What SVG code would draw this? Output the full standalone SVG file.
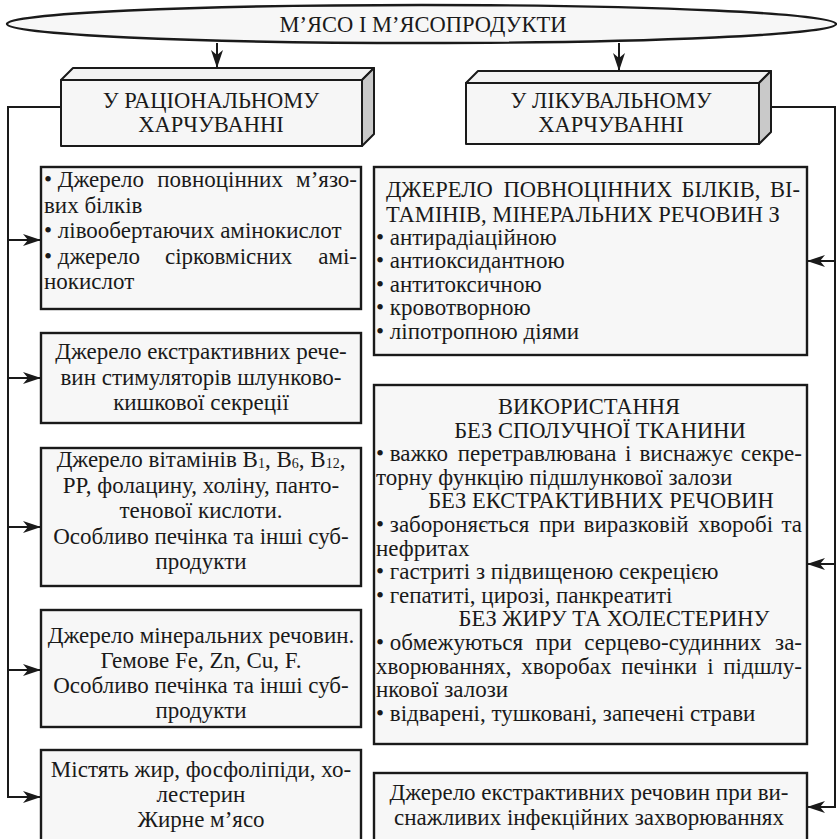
<svg xmlns="http://www.w3.org/2000/svg" width="837" height="839" viewBox="0 0 837 839" font-family="'Liberation Serif', 'DejaVu Serif', serif">
  <defs>
    <style>
      text { font-family: 'Liberation Serif', 'DejaVu Serif', serif; font-size: 23px; fill: #1a1a1a; }
      .cap { font-size: 22.5px; }
      .c { text-anchor: middle; }
      .e { text-anchor: end; }
      .box { fill: #f7f7f7; stroke: #1a1a1a; stroke-width: 2.4; }
      .face { fill: #f6f6f6; stroke: #1a1a1a; stroke-width: 2; stroke-linejoin: round; }
      .top { fill: #f2f2f2; stroke: #1a1a1a; stroke-width: 2; stroke-linejoin: round; }
      .side { fill: #c9c9c9; stroke: #1a1a1a; stroke-width: 2; stroke-linejoin: round; }
      .wire { fill: none; stroke: #1a1a1a; stroke-width: 2; }
      .sub { font-size: 14px; }
    </style>
    <marker id="arr" markerUnits="userSpaceOnUse" markerWidth="18" markerHeight="12" viewBox="0 0 18 12" refX="18" refY="6" orient="auto">
      <path d="M0,0 L18,6 L0,12 L5,6 z" fill="#1a1a1a"/>
    </marker>
  </defs>

  <!-- connectors -->
  <g id="connectors" class="wire">
    <path d="M217,43 V68" marker-end="url(#arr)"/>
    <path d="M619,43 V71" marker-end="url(#arr)"/>
    <path d="M61,107 H8 V797 H41" marker-end="url(#arr)"/>
    <path d="M8,240 H41" marker-end="url(#arr)"/>
    <path d="M8,378 H41" marker-end="url(#arr)"/>
    <path d="M8,527 H41" marker-end="url(#arr)"/>
    <path d="M8,670 H41" marker-end="url(#arr)"/>
    <path d="M771,107 H835 V807 H807" marker-end="url(#arr)"/>
    <path d="M835,261 H807" marker-end="url(#arr)"/>
    <path d="M835,564 H807" marker-end="url(#arr)"/>
  </g>

  <!-- title -->
  <g id="title">
    <ellipse cx="421.5" cy="24" rx="414.5" ry="19" class="box" stroke-width="2"/>
    <text x="423" y="32" class="c cap">М’ЯСО І М’ЯСОПРОДУКТИ</text>
  </g>

  <!-- rational nutrition block -->
  <g id="rational">
    <polygon class="top" points="61,80 73,68 374,68 362,80"/>
    <polygon class="side" points="362,80 374,68 374,134 362,146"/>
    <rect class="face" x="61" y="80" width="301" height="66"/>
    <text x="211" y="108" class="c cap">У РАЦІОНАЛЬНОМУ</text>
    <text x="211" y="132" class="c cap">ХАРЧУВАННІ</text>
  </g>

  <!-- therapeutic nutrition block -->
  <g id="therapeutic">
    <polygon class="top" points="466,83 478,71 771,71 759,83"/>
    <polygon class="side" points="759,83 771,71 771,132 759,144"/>
    <rect class="face" x="466" y="83" width="293" height="61"/>
    <text x="611" y="108" class="c cap">У ЛІКУВАЛЬНОМУ</text>
    <text x="611" y="132" class="c cap">ХАРЧУВАННІ</text>
  </g>

  <!-- left column (justified lines are set word by word) -->
  <g id="r-proteins">
    <rect class="box" x="41" y="167" width="320" height="142"/>
    <text y="187"><tspan x="44">• Джерело</tspan><tspan x="157.3">повноцінних</tspan><tspan x="357" class="e">м’язо-</tspan></text>
    <text x="44" y="212.5">вих білків</text>
    <text x="44" y="238">• лівообертаючих амінокислот</text>
    <text y="263.5"><tspan x="44">• джерело</tspan><tspan x="165">сірковмісних</tspan><tspan x="357" class="e">амі-</tspan></text>
    <text x="44" y="289">нокислот</text>
  </g>

  <g id="r-extractives">
    <rect class="box" x="41" y="333" width="320" height="90"/>
    <text x="201" y="359" class="c">Джерело екстрактивних рече-</text>
    <text x="201" y="384.5" class="c">вин стимуляторів шлунково-</text>
    <text x="201" y="410" class="c">кишкової секреції</text>
  </g>

  <g id="r-vitamins">
    <rect class="box" x="41" y="448" width="320" height="138"/>
    <text x="201" y="467" class="c">Джерело вітамінів B<tspan class="sub" dy="1">1</tspan><tspan dy="-1">, B</tspan><tspan class="sub" dy="1">6</tspan><tspan dy="-1">, B</tspan><tspan class="sub" dy="1">12</tspan><tspan dy="-1">,</tspan></text>
    <text x="201" y="492.5" class="c">PP, фолацину, холіну, панто-</text>
    <text x="201" y="518" class="c">тенової кислоти.</text>
    <text x="201" y="543.5" class="c">Особливо печінка та інші суб-</text>
    <text x="201" y="569" class="c">продукти</text>
  </g>

  <g id="r-minerals">
    <rect class="box" x="41" y="610" width="320" height="117"/>
    <text x="201" y="643" class="c">Джерело мінеральних речовин.</text>
    <text x="201" y="668" class="c">Гемове Fe, Zn, Cu, F.</text>
    <text x="201" y="693" class="c">Особливо печінка та інші суб-</text>
    <text x="201" y="718" class="c">продукти</text>
  </g>

  <g id="r-fats">
    <rect class="box" x="41" y="750" width="320" height="100"/>
    <text x="201" y="777" class="c">Містять жир, фосфоліпіди, хо-</text>
    <text x="201" y="802" class="c">лестерин</text>
    <text x="201" y="827" class="c">Жирне м’ясо</text>
  </g>

  <!-- right column -->
  <g id="t-source">
    <rect class="box" x="374" y="167" width="433" height="188"/>
    <text y="197" class="cap"><tspan x="386">ДЖЕРЕЛО</tspan><tspan x="503.5">ПОВНОЦІННИХ</tspan><tspan x="681.5">БІЛКІВ,</tspan><tspan x="800" class="e">ВІ-</tspan></text>
    <text x="386" y="222" class="cap">ТАМІНІВ, МІНЕРАЛЬНИХ РЕЧОВИН З</text>
    <text x="376" y="244.5">• антирадіаційною</text>
    <text x="376" y="268">• антиоксидантною</text>
    <text x="376" y="291.5">• антитоксичною</text>
    <text x="376" y="315">• кровотворною</text>
    <text x="376" y="338.5">• ліпотропною діями</text>
  </g>

  <g id="t-usage">
    <rect class="box" x="374" y="385" width="433" height="359"/>
    <text x="589" y="414" class="c cap">ВИКОРИСТАННЯ</text>
    <text x="600" y="437.6" class="c cap">БЕЗ СПОЛУЧНОЇ ТКАНИНИ</text>
    <text y="461.2"><tspan x="376">• важко</tspan><tspan x="457.8">перетравлювана</tspan><tspan x="624.9">і</tspan><tspan x="639.5">виснажує</tspan><tspan x="802" class="e">секре-</tspan></text>
    <text x="376" y="484.8">торну функцію підшлункової залози</text>
    <text x="601" y="508.4" class="c cap">БЕЗ ЕКСТРАКТИВНИХ РЕЧОВИН</text>
    <text y="532"><tspan x="376">• забороняється</tspan><tspan x="538.9">при</tspan><tspan x="583.6">виразковій</tspan><tspan x="698.3">хворобі</tspan><tspan x="802" class="e">та</tspan></text>
    <text x="376" y="555.6">нефритах</text>
    <text x="376" y="579.2">• гастриті з підвищеною секрецією</text>
    <text x="376" y="602.8">• гепатиті, цирозі, панкреатиті</text>
    <text x="614" y="626.4" class="c cap">БЕЗ ЖИРУ ТА ХОЛЕСТЕРИНУ</text>
    <text y="650"><tspan x="376">• обмежуються</tspan><tspan x="535.6">при</tspan><tspan x="584.2">серцево-судинних</tspan><tspan x="802" class="e">за-</tspan></text>
    <text y="673.6"><tspan x="376">хворюваннях,</tspan><tspan x="521.3">хворобах</tspan><tspan x="621.3">печінки</tspan><tspan x="707.3">і</tspan><tspan x="802" class="e">підшлу-</tspan></text>
    <text x="376" y="697.2">нкової залози</text>
    <text x="376" y="720.8">• відварені, тушковані, запечені страви</text>
  </g>

  <g id="t-infections">
    <rect class="box" x="374" y="773" width="433" height="80"/>
    <text x="589" y="800" class="c">Джерело екстрактивних речовин при ви-</text>
    <text x="589" y="825" class="c">снажливих інфекційних захворюваннях</text>
  </g>
</svg>
